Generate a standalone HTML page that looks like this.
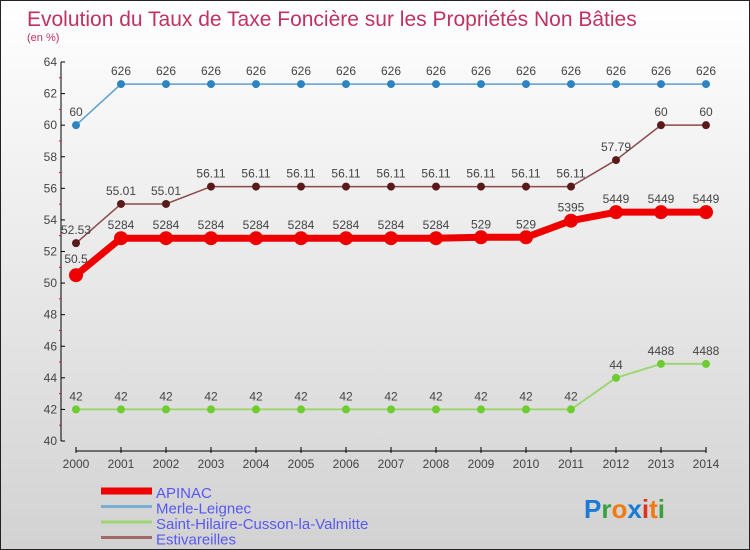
<!DOCTYPE html>
<html><head><meta charset="utf-8"><style>
body{margin:0}
#c{width:748px;height:548px;border:1px solid #222;background:linear-gradient(#ffffff,#d2d2d2);position:relative;overflow:hidden;font-family:"Liberation Sans",sans-serif}
</style></head><body>
<div id="c">
<svg id="s" width="748" height="548" style="position:absolute;left:0;top:0" font-family="Liberation Sans, sans-serif">
<text x="26" y="25" font-size="21" fill="#c0325f">Evolution du Taux de Taxe Foncière sur les Propriétés Non Bâties</text>
<text x="26" y="40" font-size="11" fill="#c0325f">(en %)</text>
<g id="axes"></g><g id="series"></g><g id="legend"></g>
<text x="583" y="517" font-size="26" font-weight="bold"><tspan fill="#1a7ad4">P</tspan><tspan fill="#3aa040">r</tspan><tspan fill="#f07a10">o</tspan><tspan fill="#1a7ad4">x</tspan><tspan fill="#e03020">i</tspan><tspan fill="#f07a10">t</tspan><tspan fill="#3aa040">i</tspan></text>
</svg>
</div>
<script>
const years=[2000,2001,2002,2003,2004,2005,2006,2007,2008,2009,2010,2011,2012,2013,2014];
const apinac=[50.5,52.84,52.84,52.84,52.84,52.84,52.84,52.84,52.84,52.9,52.9,53.95,54.49,54.49,54.49];
const merle=[60,62.6,62.6,62.6,62.6,62.6,62.6,62.6,62.6,62.6,62.6,62.6,62.6,62.6,62.6];
const sthilaire=[42,42,42,42,42,42,42,42,42,42,42,42,44,44.88,44.88];
const estiv=[52.53,55.01,55.01,56.11,56.11,56.11,56.11,56.11,56.11,56.11,56.11,56.11,57.79,60,60];
const yTicks=[40,42,44,46,48,50,52,54,56,58,60,62,64];
const NS="http://www.w3.org/2000/svg";
const X=i=>75+i*45, Y=v=>440-(v-40)*(379/24);
function mk(t,a,p){const e=document.createElementNS(NS,t);for(const k in a)e.setAttribute(k,a[k]);p.appendChild(e);return e;}
const ax=document.getElementById('axes');
const yl=mk('line',{x1:60,y1:Y(64),x2:60,y2:440,stroke:'#000'},ax);


yTicks.forEach((v,i)=>{
 mk('line',{x1:60,x2:64,y1:Y(v),y2:Y(v),stroke:'#000'},ax);
 if(i<yTicks.length-1) mk('line',{x1:58,x2:60,y1:Y(v+1),y2:Y(v+1),stroke:'#f00'},ax);
 const t=mk('text',{x:56,y:Y(v)+4,'font-size':12,fill:'#444','text-anchor':'end'},ax);t.textContent=v;
 
 
});
const xl=mk('line',{x1:75,y1:450,x2:X(14),y2:450,stroke:'#000'},ax);


years.forEach((y,i)=>{
 mk('line',{x1:X(i),x2:X(i),y1:446,y2:452,stroke:'#000'},ax);
 const t=mk('text',{x:X(i),y:467,'font-size':12,fill:'#444','text-anchor':'middle'},ax);t.textContent=y;
 
 
});
const sg=document.getElementById('series');
function series(name,data,color,w,r,dotc,below0){
 const g=mk('g',{},sg);
 
 
 mk('polyline',{points:data.map((v,i)=>X(i)+','+Y(v)).join(' '),fill:'none',stroke:color,'stroke-width':w,'stroke-linejoin':'round'},g);
 data.forEach((v,i)=>{
  const c=mk('circle',{cx:X(i),cy:Y(v),r:r,fill:dotc},g);
  
  
  const t=mk('text',{x:X(i),y:(below0&&i===0)?Y(v)-12:Y(v)-9,'font-size':12,fill:'#444','text-anchor':'middle'},g);
  t.textContent=String(v).replace('.','');
  if(name==='estivareilles'||name==='apinac'&&i===0) t.textContent=String(v);
  
  
 });
}
series('sthilaire',sthilaire,'#9ed672',2,4,'#6ccc30');
series('merle',merle,'#5aa0d0',1.5,4,'#2e84c0');
series('estivareilles',estiv,'#8a4a4a',1.5,4,'#5a1a1a');
series('apinac',apinac,'#ee0000',7,7,'#ee0000',true);
const lg=document.getElementById('legend');
[['APINAC','#ee0000',7],['Merle-Leignec','#7aaed0',3],['Saint-Hilaire-Cusson-la-Valmitte','#9ed672',3],['Estivareilles','#a06868',3]].forEach((d,i)=>{
 const y=492+i*15.5;
 const g=mk('g',{},lg);
 
 
 mk('line',{x1:100,x2:151,y1:y-2,y2:y-2,stroke:d[1],'stroke-width':d[2]},g);
 const t=mk('text',{x:155,y:y+5,'font-size':15,fill:'#5858f0'},g);t.textContent=d[0];
});
</script>
</body></html>
